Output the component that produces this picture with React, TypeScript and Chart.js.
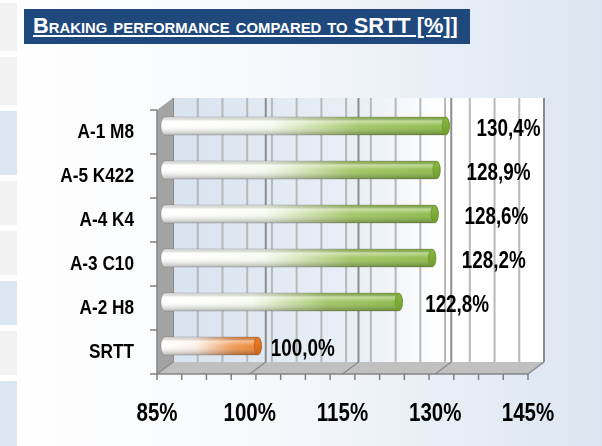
import React, { useEffect, useRef } from 'react';
import { Chart, registerables } from 'chart.js';

Chart.register(...registerables);

// ---- data ----
const categories = ['A-1 M8', 'A-5 K422', 'A-4 K4', 'A-3 C10', 'A-2 H8', 'SRTT'];
const values = [130.4, 128.9, 128.6, 128.2, 122.8, 100.0];
const valueLabels = ['130,4%', '128,9%', '128,6%', '128,2%', '122,8%', '100,0%'];
const barKinds = ['green', 'green', 'green', 'green', 'green', 'orange'];
const xTickValues = [85, 100, 115, 130, 145];
const xTickLabels = ['85%', '100%', '115%', '130%', '145%'];
const X_MIN = 85;
const X_MAX = 145;
const MAJOR_STEP = 15;
const MINOR_STEP = 4;

// ---- style ----
const FONT = "'Liberation Sans', Arial, sans-serif";
const SQUEEZE = 0.82;
const DX = 16;
const DY = -12;
const sideBlocks: [number, number, string][] = [
  [3, 48, '#f2f2f2'],
  [57, 48, '#f2f2f2'],
  [111, 64, '#dce6f2'],
  [181, 44, '#f2f2f2'],
  [231, 44, '#f2f2f2'],
  [281, 44, '#dce6f2'],
  [331, 44, '#f2f2f2'],
  [381, 65, '#dce6f2'],
];
const palette: Record<string, { stops: [number, string][]; cap: string; end: string }> = {
  green: {
    stops: [
      [0, '#ffffff'],
      [0.38, '#f7faf0'],
      [0.7, '#a0c562'],
      [1, '#8ab944'],
    ],
    end: '#8ab944',
    cap: '#6f9c2b',
  },
  orange: {
    stops: [
      [0, '#ffffff'],
      [0.35, '#fdf2e9'],
      [0.75, '#f0964f'],
      [1, '#ec8130'],
    ],
    end: '#ec8130',
    cap: '#cc6318',
  },
};

function line(ctx: CanvasRenderingContext2D, x1: number, y1: number, x2: number, y2: number) {
  ctx.beginPath();
  ctx.moveTo(x1, y1);
  ctx.lineTo(x2, y2);
  ctx.stroke();
}

function narrowText(
  ctx: CanvasRenderingContext2D,
  text: string,
  x: number,
  y: number,
  size: number,
  align: CanvasTextAlign
) {
  ctx.save();
  ctx.translate(x, y);
  ctx.scale(SQUEEZE, 1);
  ctx.font = `bold ${size}px ${FONT}`;
  ctx.fillStyle = '#000000';
  ctx.textAlign = align;
  ctx.textBaseline = 'middle';
  ctx.fillText(text, 0, 0);
  ctx.restore();
}

const threeD = {
  id: 'threeD',
  beforeDatasetsDraw(chart: any) {
    const { ctx, chartArea: a, scales } = chart;
    const xs = scales.x;
    const ys = scales.y;
    const L = a.left, R = a.right, T = a.top, B = a.bottom;
    ctx.save();
    // back wall
    const g = ctx.createLinearGradient(L + DX, 0, R + DX, 0);
    g.addColorStop(0, '#d8e3ef');
    g.addColorStop(0.5, '#e9eff7');
    g.addColorStop(0.72, '#ffffff');
    g.addColorStop(1, '#ffffff');
    ctx.fillStyle = g;
    ctx.fillRect(L + DX, T + DY, R - L, B - T);
    // minor grid lines
    ctx.lineWidth = 2;
    ctx.strokeStyle = '#b8b8b8';
    for (let v = X_MIN; v <= X_MAX + 1e-6; v += MINOR_STEP) {
      const px = xs.getPixelForValue(v) + DX;
      line(ctx, px, T + DY, px, B + DY);
    }
    // major grid lines
    ctx.strokeStyle = '#8c8c8c';
    for (let v = X_MIN; v <= X_MAX + 1e-6; v += MAJOR_STEP) {
      const px = xs.getPixelForValue(v) + DX;
      line(ctx, px, T + DY, px, B + DY);
    }
    // left wall
    ctx.fillStyle = '#a3a3a3';
    ctx.beginPath();
    ctx.moveTo(L, T);
    ctx.lineTo(L + DX, T + DY);
    ctx.lineTo(L + DX, B + DY);
    ctx.lineTo(L, B);
    ctx.closePath();
    ctx.fill();
    // floor
    ctx.fillStyle = '#c0c0c0';
    ctx.beginPath();
    ctx.moveTo(L, B);
    ctx.lineTo(L + DX, B + DY);
    ctx.lineTo(R + DX, B + DY);
    ctx.lineTo(R, B);
    ctx.closePath();
    ctx.fill();
    ctx.lineWidth = 1.5;
    ctx.strokeStyle = '#8c8c8c';
    for (let v = X_MIN; v <= X_MAX + 1e-6; v += MAJOR_STEP) {
      const px = xs.getPixelForValue(v);
      line(ctx, px, B, px + DX, B + DY);
    }
    // front edges
    ctx.strokeStyle = '#858585';
    ctx.lineWidth = 1.5;
    line(ctx, L, T, L, B);
    line(ctx, L, B, R, B);
    // bottom tick marks
    ctx.strokeStyle = '#7f7f7f';
    for (let v = X_MIN; v <= X_MAX + 1e-6; v += MINOR_STEP) {
      const px = xs.getPixelForValue(v);
      line(ctx, px, B, px, B + 6);
    }
    // left tick marks at category boundaries
    const n = categories.length;
    for (let i = 0; i <= n; i++) {
      const yb = T + (i * (B - T)) / n;
      line(ctx, L - 7, yb, L, yb);
    }
    // category labels
    categories.forEach((c, i) => {
      narrowText(ctx, c, L - 23, ys.getPixelForValue(i), 21, 'right');
    });
    // x tick labels
    xTickValues.forEach((v, i) => {
      narrowText(ctx, xTickLabels[i], xs.getPixelForValue(v), B + 40, 25, 'center');
    });
    ctx.restore();
  },
  afterDatasetsDraw(chart: any) {
    const { ctx, scales } = chart;
    const xs = scales.x;
    const meta = chart.getDatasetMeta(0);
    const x100 = xs.getPixelForValue(100);
    ctx.save();
    meta.data.forEach((el: any, i: number) => {
      const p = el.getProps(['x', 'y', 'base', 'height'], true);
      const x0 = p.base + DX / 2;
      const x1 = p.x + DX / 2;
      const cy = p.y + DY / 2;
      const r = p.height / 2;
      const rx = 4;
      const col = palette[barKinds[i]];
      const body = () => {
        ctx.beginPath();
        ctx.moveTo(x0, cy - r);
        ctx.lineTo(x1, cy - r);
        ctx.ellipse(x1, cy, rx, r, 0, -Math.PI / 2, Math.PI / 2);
        ctx.lineTo(x0, cy + r);
        ctx.ellipse(x0, cy, rx, r, 0, Math.PI / 2, (3 * Math.PI) / 2);
        ctx.closePath();
      };
      const hg = ctx.createLinearGradient(x0 - rx, 0, x1, 0);
      col.stops.forEach(([o, c]) => hg.addColorStop(o, c));
      body();
      ctx.fillStyle = hg;
      ctx.fill();
      const vg = ctx.createLinearGradient(0, cy - r, 0, cy + r);
      vg.addColorStop(0, 'rgba(0,0,0,0.08)');
      vg.addColorStop(0.22, 'rgba(255,255,255,0.45)');
      vg.addColorStop(0.5, 'rgba(255,255,255,0.05)');
      vg.addColorStop(1, 'rgba(0,0,0,0.28)');
      body();
      ctx.fillStyle = vg;
      ctx.fill();
      ctx.lineWidth = 1;
      ctx.strokeStyle = 'rgba(80,80,80,0.25)';
      ctx.stroke();
      // end cap
      const cg = ctx.createLinearGradient(0, cy - r, 0, cy + r);
      cg.addColorStop(0, col.end);
      cg.addColorStop(1, col.cap);
      ctx.beginPath();
      ctx.ellipse(x1, cy, rx - 0.5, r - 0.5, 0, 0, Math.PI * 2);
      ctx.fillStyle = cg;
      ctx.fill();
      ctx.strokeStyle = col.cap;
      ctx.stroke();
      // value label
      const lx = p.x + 53 + (p.x - x100) * 0.095;
      narrowText(ctx, valueLabels[i], lx, p.y - 2, 23, 'center');
    });
    ctx.restore();
  },
};

export default function App() {
  const ref = useRef<HTMLCanvasElement>(null);
  useEffect(() => {
    document.body.style.margin = '0';
    const chart = new Chart(ref.current!, {
      type: 'bar',
      data: {
        labels: categories,
        datasets: [
          {
            data: values,
            base: X_MIN,
            backgroundColor: 'rgba(0,0,0,0)',
            borderWidth: 0,
            barThickness: 18,
          },
        ],
      },
      options: {
        indexAxis: 'y',
        animation: false,
        responsive: false,
        maintainAspectRatio: false,
        layout: { padding: { top: 110, right: 74, left: 157, bottom: 72 } },
        plugins: { legend: { display: false }, tooltip: { enabled: false } },
        scales: {
          x: { display: false, min: X_MIN, max: X_MAX },
          y: { display: false },
        },
      },
      plugins: [threeD],
    } as any);
    return () => chart.destroy();
  }, []);

  return (
    <div
      style={{
        position: 'relative',
        width: 602,
        height: 446,
        overflow: 'hidden',
        background: 'linear-gradient(to right, #ffffff 0%, #f6f8fb 45%, #dbe5f1 100%)',
      }}
    >
      {sideBlocks.map(([top, h, c], i) => (
        <div key={i} style={{ position: 'absolute', left: 0, top, width: 17, height: h, background: c }} />
      ))}
      <div
        style={{
          position: 'absolute',
          left: 24,
          top: 9,
          width: 446,
          height: 35,
          background: '#1f497d',
        }}
      >
        <span
          style={{
            position: 'absolute',
            left: 9,
            top: 3,
            color: '#ffffff',
            fontFamily: FONT,
            fontWeight: 'bold',
            fontSize: 22,
            fontVariant: 'small-caps',
            textDecoration: 'underline',
            whiteSpace: 'nowrap',
            lineHeight: '28px',
            transform: 'scaleX(0.99)',
            transformOrigin: 'left center',
          }}
        >
          Braking performance compared to SRTT [%]]
        </span>
      </div>
      <canvas
        ref={ref}
        width={602}
        height={446}
        style={{ position: 'absolute', left: 0, top: 0, display: 'block' }}
      />
    </div>
  );
}
